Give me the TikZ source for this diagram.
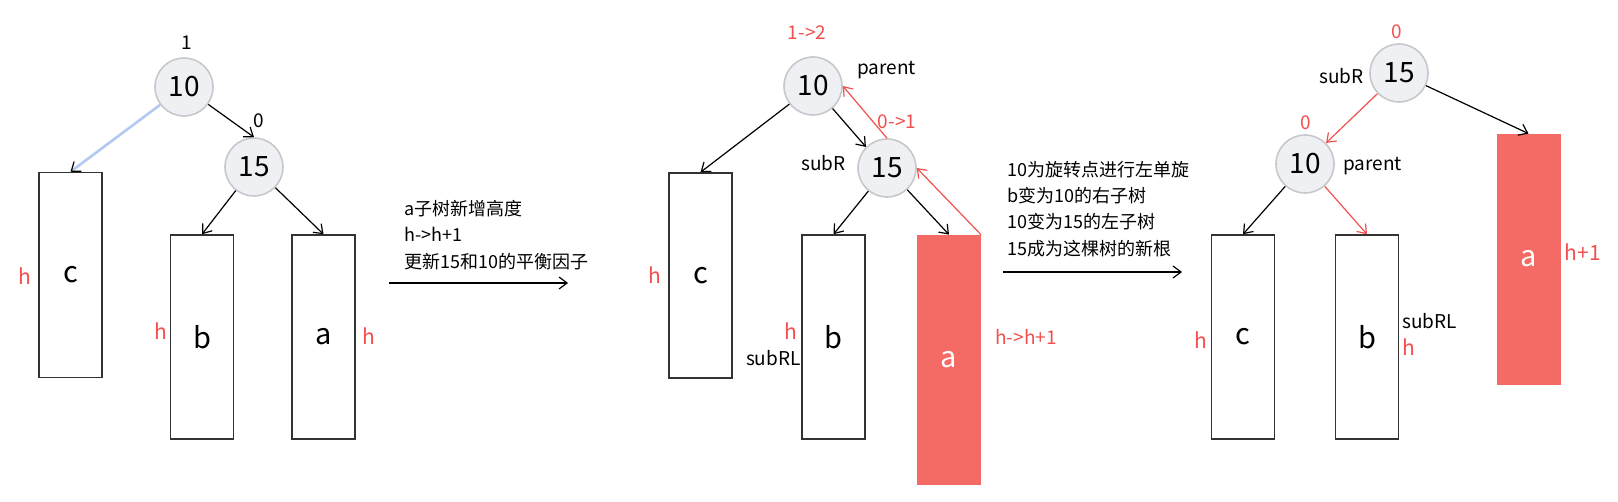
\documentclass[tikz,border=0pt]{standalone}
\usepackage{fontspec}
\setmainfont{Noto Sans CJK SC}
\usetikzlibrary{arrows.meta,positioning}
\definecolor{hotred}{HTML}{F46B66}
\definecolor{txtred}{HTML}{F2504E}
\definecolor{linkblue}{HTML}{B3C8F2}
\definecolor{nodefill}{HTML}{EEF0F3}
\definecolor{nodeline}{HTML}{C6C8CC}
\definecolor{boxline}{HTML}{333333}

\begin{document}
\begin{tikzpicture}[
  x=0.5pt,y=-0.5pt,
  key/.style={circle,draw=nodeline,fill=nodefill,line width=0.8pt,minimum size=29pt,
              inner sep=0pt,font=\fontsize{14}{16}\selectfont},
  sub/.style={draw=boxline,line width=0.75pt,minimum width=31.5pt,inner sep=0pt,
              font=\fontsize{14.5}{16}\selectfont},
  hot/.style={fill=hotred,draw=hotred,text=white,minimum width=31.5pt,inner sep=0pt,
              font=\fontsize{14.5}{16}\selectfont},
  lbl/.style={inner sep=0pt,font=\fontsize{9.5}{11}\selectfont},
  hl/.style={lbl,text=txtred},
  note/.style={align=left,anchor=west,inner sep=0pt,font=\fontsize{9}{13.2}\selectfont},
  link/.style={-{Straight Barb[length=4pt,width=6pt]},line width=0.6pt},
  redlink/.style={link,draw=txtred}
]
\useasboundingbox (0,0) rectangle (1618,502);

% before the insertion
\node[key] (p1) at (184,87) {10};
\node[key] (s1) at (254,167) {15};
\node[sub,minimum height=102.5pt] (c1) at (70.5,275) {c};
\node[sub,minimum height=102pt] (b1) at (202,337) {b};
\node[sub,minimum height=102pt] (a1) at (323.5,337) {a};
\node[lbl] (bf1) at (187,43) {1};
\node[lbl] (bf1s) at (259,121) {0};
\node[hl,font=\fontsize{10.5}{12}\selectfont] (hc1) at (25,276) {h};
\node[hl,font=\fontsize{10.5}{12}\selectfont] (hb1) at (161,331) {h};
\node[hl,font=\fontsize{10.5}{12}\selectfont] (ha1) at (369,336) {h};
\draw[link,draw=linkblue,line width=1.3pt,-{Straight Barb[length=4pt,width=6pt,black,line width=0.6pt]}] (p1) -- (c1.north);
\draw[link] (p1) -- (s1.north);
\draw[link] (s1) -- (b1.north);
\draw[link] (s1) -- (a1.north);

\node[note] (why1) at (404,235) {a子树新增高度\\h->h+1\\更新15和10的平衡因子};
\coordinate (go1s) at (389,283);
\coordinate (go1e) at (568,283);
\draw[link] (go1s) -- (go1e);

% a grows, 10 is unbalanced
\node[key] (p2) at (813,86) {10};
\node[key] (s2) at (887,168) {15};
\node[sub,minimum height=102.5pt] (c2) at (700.5,275.5) {c};
\node[sub,minimum height=102pt] (b2) at (833.5,337) {b};
\node[hot,minimum height=124.5pt] (a2) at (949,359.5) {a};
\node[hl] (bf2) at (807,33) {1->2};
\node[hl] (bf2s) at (897,122) {0->1};
\node[lbl,anchor=west] (par2) at (857,70) {parent};
\node[lbl,anchor=east] (sr2) at (846,163) {subR};
\node[hl,font=\fontsize{10.5}{12}\selectfont] (hc2) at (655,275) {h};
\node[hl,font=\fontsize{10.5}{12}\selectfont] (hb2) at (791,331) {h};
\node[lbl,anchor=east] (srl2) at (801,358) {subRL};
\node[hl,anchor=west] (ha2) at (995,337) {h->h+1};
\draw[link] (p2) -- (c2.north);
\draw[link] (p2) -- (s2.north west);
\draw[redlink] (s2.north) -- (p2.east);
\draw[link] (s2) -- (b2.north);
\draw[link] (s2) -- (a2.north);
\draw[redlink] (a2.north east) -- (s2.east);

\node[note] (why2) at (1007,209) {10为旋转点进行左单旋\\b变为10的右子树\\10变为15的左子树\\15成为这棵树的新根};
\coordinate (go2s) at (1003,272);
\coordinate (go2e) at (1182,272);
\draw[link] (go2s) -- (go2e);

% after the left rotation
\node[key] (s3) at (1399,73) {15};
\node[key] (p3) at (1305,164) {10};
\node[sub,minimum height=102pt] (c3) at (1243,337) {c};
\node[sub,minimum height=102pt] (b3) at (1367,337) {b};
\node[hot,minimum height=125pt] (a3) at (1528.5,259) {a};
\node[hl] (bf3s) at (1397,32) {0};
\node[hl] (bf3p) at (1306,123) {0};
\node[lbl,anchor=east] (sr3) at (1364,76) {subR};
\node[lbl,anchor=west] (par3) at (1343,166) {parent};
\node[hl,font=\fontsize{10.5}{12}\selectfont] (hc3) at (1201,340) {h};
\node[lbl,anchor=west] (srl3) at (1402,321) {subRL};
\node[hl,anchor=west,font=\fontsize{10.5}{12}\selectfont] (hb3) at (1402,347) {h};
\node[hl,font=\fontsize{10.5}{12}\selectfont] (ha3) at (1583,252) {h+1};
\draw[redlink] (s3) -- (p3.north east);
\draw[link] (s3) -- (a3.north);
\draw[link] (p3) -- (c3.north);
\draw[redlink] (p3) -- (b3.north);
\end{tikzpicture}
\end{document}
